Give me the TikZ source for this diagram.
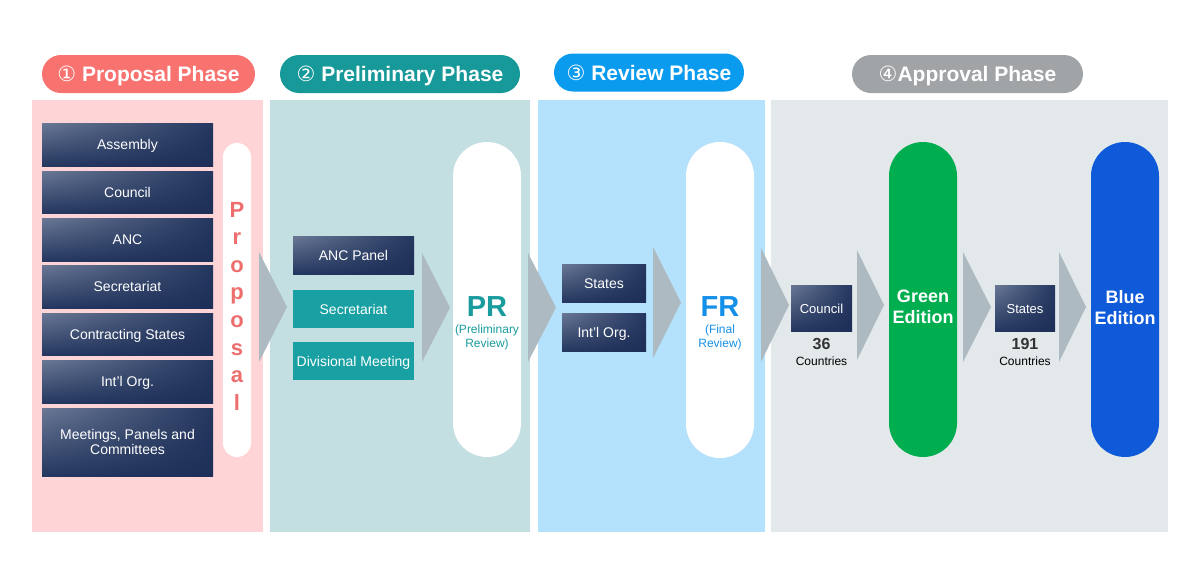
\documentclass[tikz,border=0pt]{standalone}
\usepackage{fontspec}
\setmainfont{Liberation Sans}
\newfontfamily\dejavu{DejaVu Sans}
\usetikzlibrary{shadings}
\definecolor{pinkbg}{HTML}{FFD4D6}
\definecolor{tealbg}{HTML}{C4DFE1}
\definecolor{bluebg}{HTML}{B4E1FB}
\definecolor{greybg}{HTML}{E3E8EB}
\definecolor{hred}{HTML}{F87370}
\definecolor{hteal}{HTML}{17999A}
\definecolor{hblue}{HTML}{0B9BEE}
\definecolor{hgrey}{HTML}{A0A4A6}
\definecolor{chevc}{HTML}{AEBAC1}
\definecolor{navyA}{HTML}{6A7895}
\definecolor{navyB}{HTML}{24375F}
\definecolor{navyC}{HTML}{1D2E57}
\definecolor{tealbox}{HTML}{19A0A2}
\definecolor{propred}{HTML}{EE6E6E}
\definecolor{prteal}{HTML}{1A9C9E}
\definecolor{frblue}{HTML}{1590E8}
\definecolor{greened}{HTML}{00AD4F}
\definecolor{blueed}{HTML}{0F5AD8}
\definecolor{darktxt}{HTML}{333333}
\tikzset{
  header/.style={rounded corners=19pt, inner sep=0, minimum height=38pt, text=white,
     text height=15pt, text depth=0pt,
     font=\fontsize{21}{24}\selectfont\bfseries},
  navybox/.style={inner sep=0, upper left=navyA, upper right=navyB, lower left=navyB, lower right=navyC,
     text=white, font=\fontsize{14}{16}\selectfont},
  oneline/.style={text height=10pt, text depth=0pt},
  tealboxs/.style={inner sep=0, fill=tealbox, text=white, font=\fontsize{14}{16}\selectfont, oneline},
  pillw/.style={inner sep=0, fill=white},
  chev/.style={fill=chevc},
  propl/.style={text=propred, font=\fontsize{22}{24}\selectfont\bfseries, inner sep=0},
  bigtxt/.style={font=\fontsize{29}{31}\selectfont\bfseries, inner sep=0},
  smalltxt/.style={font=\fontsize{12}{14}\selectfont, align=center, inner sep=0},
  edtxt/.style={text=white, font=\fontsize{18}{21}\selectfont\bfseries, align=center, inner sep=0},
}
\begin{document}
\begin{tikzpicture}[x=1pt,y=-1pt]
\useasboundingbox (0,0) rectangle (1200,576);
% panels
\fill[pinkbg] (32,100) rectangle (263,532);
\fill[tealbg] (270,100) rectangle (530,532);
\fill[bluebg] (538,100) rectangle (765,532);
\fill[greybg] (771,100) rectangle (1168,532);
% headers
\node[header, fill=hred, minimum width=213pt] (h1) at (148.5,74) {{\dejavu\mdseries ①} Proposal Phase};
\node[header, fill=hteal, minimum width=240pt] (h2) at (400,74) {{\dejavu\mdseries ②} Preliminary Phase};
\node[header, fill=hblue, minimum width=190pt] (h3) at (649,72.5) {{\dejavu\mdseries ③} Review Phase};
\node[header, fill=hgrey, minimum width=231pt] (h4) at (967.5,74) {{\dejavu\mdseries ④}Approval Phase};
% proposal boxes
\node[navybox, oneline, minimum width=171pt, minimum height=43pt] (p1) at (127.5,144.5) {Assembly};
\node[navybox, oneline, minimum width=171pt, minimum height=42pt] (p2) at (127.5,192) {Council};
\node[navybox, oneline, minimum width=171pt, minimum height=43pt] (p3) at (127.5,239.5) {ANC};
\node[navybox, oneline, minimum width=171pt, minimum height=43pt] (p4) at (127.5,286.5) {Secretariat};
\node[navybox, oneline, minimum width=171pt, minimum height=42pt] (p5) at (127.5,334) {Contracting States};
\node[navybox, oneline, minimum width=171pt, minimum height=43pt] (p6) at (127.5,381.5) {Int'l Org.};
\node[navybox, align=center, minimum width=171pt, minimum height=68pt] (p7) at (127.5,442) {Meetings, Panels and\\[-1pt]Committees};
% proposal pill
\node[pillw, rounded corners=14pt, minimum width=28pt, minimum height=314pt] (ppill) at (237,300) {};
\foreach \c [count=\i from 0] in {P,r,o,p,o,s,a,l}
  \node[propl, anchor=base] (pl\i) at (237,{217+27.6*\i}) {\c};
% chevrons
\fill[chev] (259,252) -- (287,307) -- (259,362) -- cycle;
\fill[chev] (422,253) -- (450,307.5) -- (422,362) -- cycle;
\fill[chev] (528,253) -- (556,307.5) -- (528,362) -- cycle;
\fill[chev] (653,247) -- (681,302.5) -- (653,358) -- cycle;
\fill[chev] (761,248) -- (789,305) -- (761,362) -- cycle;
\fill[chev] (857,250) -- (884,305) -- (857,360) -- cycle;
\fill[chev] (963,252) -- (991,307) -- (963,362) -- cycle;
\fill[chev] (1059,252) -- (1086,307) -- (1059,362) -- cycle;
% preliminary boxes
\node[navybox, oneline, minimum width=121pt, minimum height=38pt] (q1) at (353.5,255) {ANC Panel};
\node[tealboxs, minimum width=121pt, minimum height=38pt] (q2) at (353.5,309) {Secretariat};
\node[tealboxs, minimum width=121pt, minimum height=38pt] (q3) at (353.5,361) {Divisional Meeting};
% PR pill
\node[pillw, rounded corners=34pt, minimum width=68pt, minimum height=315pt] (prpill) at (487,299.5) {};
\node[bigtxt, text=prteal] (prt) at (487,307) {PR};
\node[smalltxt, text=prteal] (prs) at (487,337) {(Preliminary\\Review)};
% review boxes
\node[navybox, oneline, minimum width=84pt, minimum height=38pt] (r1) at (604,283) {States};
\node[navybox, oneline, minimum width=84pt, minimum height=38pt] (r2) at (604,332) {Int'l Org.};
% FR pill
\node[pillw, rounded corners=34pt, minimum width=68pt, minimum height=316pt] (frpill) at (720,300) {};
\node[bigtxt, text=frblue] (frt) at (720,307) {FR};
\node[smalltxt, text=frblue] (frs) at (720,337) {(Final\\Review)};
% approval
\node[navybox, oneline, minimum width=61pt, minimum height=46pt, font=\fontsize{13}{15}\selectfont] (a1) at (821.5,308) {Council};
\node[font=\fontsize{16}{18}\selectfont\bfseries, text=darktxt, inner sep=0] (a1n) at (821.5,344) {36};
\node[font=\fontsize{12}{14}\selectfont, inner sep=0] (a1c) at (821.5,361) {Countries};
\node[pillw, fill=greened, rounded corners=34pt, minimum width=68pt, minimum height=315pt] (gpill) at (923,299.5) {};
\node[edtxt] (gt) at (923,307) {Green\\Edition};
\node[navybox, oneline, minimum width=60pt, minimum height=46pt, font=\fontsize{13}{15}\selectfont] (a2) at (1025,308) {States};
\node[font=\fontsize{16}{18}\selectfont\bfseries, text=darktxt, inner sep=0] (a2n) at (1025,344) {191};
\node[font=\fontsize{12}{14}\selectfont, inner sep=0] (a2c) at (1025,361) {Countries};
\node[pillw, fill=blueed, rounded corners=34pt, minimum width=68pt, minimum height=315pt] (bpill) at (1125,299.5) {};
\node[edtxt] (bt) at (1125,308) {Blue\\Edition};
\end{tikzpicture}
\end{document}
